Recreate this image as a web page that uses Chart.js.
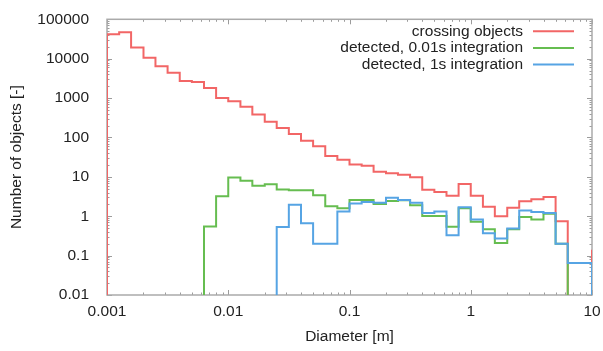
<!DOCTYPE html>
<html>
<head>
<meta charset="utf-8">
<script src="https://cdn.jsdelivr.net/npm/chart.js@4/dist/chart.umd.min.js"></script>
<style>
  html, body { margin: 0; padding: 0; background: #fff; }
  #wrap { width: 603px; height: 351px; }
</style>
</head>
<body>
<div id="wrap"><canvas id="mychart" width="603" height="351"></canvas></div>
<script>
// bin edges in metres (10 bins per decade)
const diameters = [
    0.001, 0.00126, 0.00158, 0.002, 0.00251, 0.00316, 0.00398, 0.00501, 0.00631, 0.00794,
    0.01, 0.0126, 0.0158, 0.02, 0.0251, 0.0316, 0.0398, 0.0501, 0.0631, 0.0794,
    0.1, 0.126, 0.158, 0.2, 0.251, 0.316, 0.398, 0.501, 0.631, 0.794,
    1, 1.26, 1.58, 2, 2.51, 3.16, 3.98, 5.01, 6.31, 7.94,
    10
];

// counts per bin, last entry is the value at the closing edge (x = 10)
const crossing = [
    42000, 47000, 19300, 10600, 6400, 4400, 2700, 2550, 1800, 1000,
    830, 600, 380, 250, 175, 123, 83, 60, 34, 27,
    20.5, 19, 13.5, 12.3, 11.3, 9.7, 4.7, 4.1, 3.3, 6.6,
    3.3, 1.75, 1.0, 1.65, 2.4, 2.7, 3.1, 0.75, 0, 0,
    0.14
];
const detected001 = [
    0, 0, 0, 0, 0, 0, 0, 0, 0.55, 3.2,
    9.6, 7.9, 5.9, 6.5, 4.8, 4.6, 4.6, 3.4, 1.8, 1.6,
    2.6, 2.6, 2.05, 2.45, 2.55, 1.9, 1.02, 1.02, 0.54, 1.6,
    0.72, 0.47, 0.21, 0.47, 0.95, 0.82, 1.15, 0.2, 0, 0,
    0
];
const detected1 = [
    0, 0, 0, 0, 0, 0, 0, 0, 0, 0,
    0, 0, 0, 0, 0.53, 1.95, 0.66, 0.2, 0.2, 1.32,
    2.1, 2.3, 2.2, 2.95, 2.6, 2.2, 1.2, 1.32, 0.33, 1.68,
    0.82, 0.37, 0.27, 0.49, 1.4, 1.28, 1.2, 0.2, 0.065, 0.065,
    0.065
];

const seriesNames = ['crossing objects', 'detected, 0.01s integration', 'detected, 1s integration'];
const seriesColors = ['#f26666', '#66bd50', '#56a4e4'];

const xTickValues = [0.001, 0.01, 0.1, 1, 10];
const xTickLabels = ['0.001', '0.01', '0.1', '1', '10'];
const yTickValues = [0.01, 0.1, 1, 10, 100, 1000, 10000, 100000];
const yTickLabels = ['0.01', '0.1', '1', '10', '100', '1000', '10000', '100000'];

const FLOOR = 0.001; // zero counts drawn below the axis
const font = {family: '"Liberation Sans", Arial, sans-serif', size: 15.5};
const textColor = '#222';

// turn bin values into step points
function toSteps(values) {
    let pts = [{x: diameters[0], y: FLOOR}];
    for (let i = 0; i < values.length; i++) {
        pts.push({x: diameters[i], y: values[i] > 0 ? values[i] : FLOOR});
    }
    pts.push({x: diameters[diameters.length - 1], y: FLOOR});
    return pts;
}

// box and inward ticks, gnuplot style
const frame = {
    id: 'frame',
    beforeDatasetsDraw: (chart) => {
        const {ctx, chartArea: {left, right, top, bottom}, scales: {x, y}} = chart;
        ctx.save();
        ctx.strokeStyle = '#9c9c9c';
        ctx.lineWidth = 1;
        ctx.beginPath();
        for (let d = -3; d <= 1; d++) {
            for (let m = 1; m <= 9; m++) {
                const v = m * Math.pow(10, d);
                if (v > 10.0001) break;
                const px = Math.round(x.getPixelForValue(v)) + 0.5;
                const len = m === 1 ? 5 : 2.5;
                ctx.moveTo(px, bottom); ctx.lineTo(px, bottom - len);
                ctx.moveTo(px, top); ctx.lineTo(px, top + len);
            }
        }
        for (let d = -2; d <= 5; d++) {
            for (let m = 1; m <= 9; m++) {
                const v = m * Math.pow(10, d);
                if (v > 100001) break;
                const py = Math.round(y.getPixelForValue(v)) + 0.5;
                const len = m === 1 ? 5 : 2.5;
                ctx.moveTo(left, py); ctx.lineTo(left + len, py);
                ctx.moveTo(right, py); ctx.lineTo(right - len, py);
            }
        }
        ctx.stroke();
        ctx.strokeStyle = '#aaaaaa';
        ctx.lineWidth = 1.5;
        ctx.strokeRect(left, top, right - left, bottom - top);
        ctx.restore();
    }
};

// legend inside top right, text then line sample
const keyBox = {
    id: 'keyBox',
    afterDraw: (chart) => {
        const {ctx, chartArea: {right, top}} = chart;
        ctx.save();
        ctx.font = font.size + 'px ' + font.family;
        ctx.fillStyle = textColor;
        ctx.textAlign = 'right';
        ctx.textBaseline = 'middle';
        for (let i = 0; i < seriesNames.length; i++) {
            const yy = top + 12 + i * 16.6;
            ctx.fillText(seriesNames[i], right - 69, yy);
            ctx.strokeStyle = seriesColors[i];
            ctx.lineWidth = 2;
            ctx.beginPath();
            ctx.moveTo(right - 59, yy);
            ctx.lineTo(right - 18, yy);
            ctx.stroke();
        }
        ctx.restore();
    }
};

const allSeries = [crossing, detected001, detected1];

const options = {
    type: 'line',
    data: {
        datasets: allSeries.map((vals, i) => ({
            label: seriesNames[i],
            data: toSteps(vals),
            borderColor: seriesColors[i],
            borderWidth: 2,
            stepped: true,
            pointRadius: 0,
            fill: false,
            order: 3 - i
        }))
    },
    options: {
        responsive: false,
        animation: false,
        layout: {padding: {top: 17, right: 11, bottom: 0, left: 0}},
        plugins: {
            legend: {display: false},
            tooltip: {enabled: false}
        },
        scales: {
            x: {
                type: 'logarithmic',
                min: 0.001,
                max: 10,
                afterFit: (s) => { s.height = 56; },
                afterBuildTicks: (s) => { s.ticks = xTickValues.map(v => ({value: v})); },
                ticks: {
                    callback: (v, i) => xTickLabels[i],
                    autoSkip: false,
                    maxRotation: 0,
                    padding: -1,
                    font: font,
                    color: textColor
                },
                grid: {display: false},
                border: {display: false},
                title: {display: true, text: 'Diameter [m]', font: font, color: textColor, padding: {top: 0, bottom: 5}}
            },
            y: {
                type: 'logarithmic',
                min: 0.01,
                max: 100000,
                afterFit: (s) => { s.width = 107; },
                afterBuildTicks: (s) => { s.ticks = yTickValues.map(v => ({value: v})); },
                ticks: {
                    callback: (v, i) => yTickLabels[i],
                    autoSkip: false,
                    padding: 10,
                    font: font,
                    color: textColor
                },
                grid: {display: false},
                border: {display: false},
                title: {display: true, text: 'Number of objects [-]', font: font, color: textColor, padding: {top: 7, bottom: 0}}
            }
        }
    },
    plugins: [frame, keyBox]
};

const ctx = document.getElementById('mychart').getContext('2d');
let chart = new Chart(ctx, options);
</script>
</body>
</html>
